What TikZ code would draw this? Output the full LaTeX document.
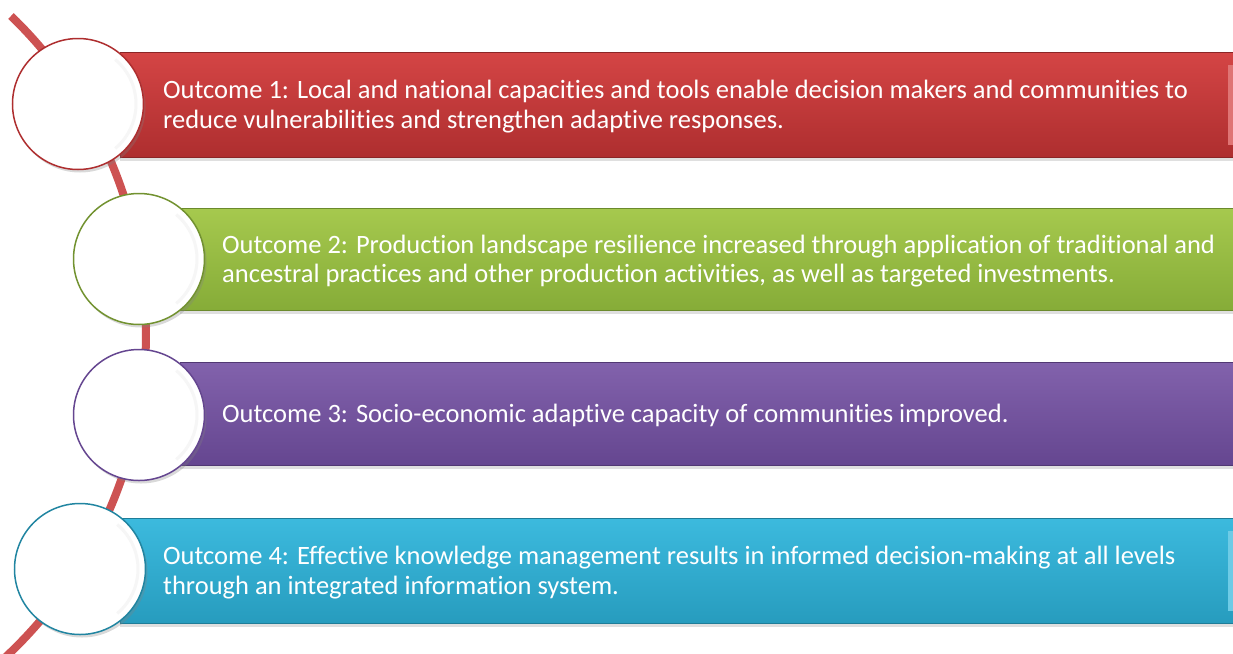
\documentclass[tikz,border=0pt]{standalone}
\usepackage{fontspec}
\setmainfont{Carlito}[Ligatures=NoCommon]
\usetikzlibrary{positioning,shadows}
\definecolor{redtop}{HTML}{D44545}
\definecolor{redbot}{HTML}{AE2E2F}
\definecolor{greentop}{HTML}{A6C94E}
\definecolor{greenbot}{HTML}{86AC38}
\definecolor{purpletop}{HTML}{8262AC}
\definecolor{purplebot}{HTML}{654690}
\definecolor{bluetop}{HTML}{3CBADE}
\definecolor{bluebot}{HTML}{279CBE}
\definecolor{spine}{HTML}{CD5252}

\begin{document}
\begin{tikzpicture}[x=1pt,y=-1pt]
            \useasboundingbox (0,0) rectangle (1233,653);
            \clip (0,0) rectangle (1233,653);
            \tikzset{bar/.style={rectangle,anchor=west,minimum width=1113pt,inner sep=0pt,
                        drop shadow={opacity=0.25,shadow xshift=0pt,shadow yshift=-4pt}},
                     disc/.style={circle,fill=white,line width=1.5pt,minimum size=131pt,inner sep=0pt,
                        drop shadow={opacity=0.3,shadow xshift=2pt,shadow yshift=-3pt}},
                     outcome/.style={anchor=west,align=left,inner sep=0pt,text=white,
                        font=\fontsize{26.5}{29.5}\selectfont}}
            \coordinate (top) at (11,16);
            \draw[spine, line width=8pt] (top) arc[start angle=-46, end angle=48, radius=442];
            \node[bar, minimum height=105pt, top color=redtop, bottom color=redbot, draw=redbot!80!black] (b1) at (120,104.5) {};
            \node[bar, minimum height=102pt, top color=greentop, bottom color=greenbot, draw=greenbot!80!black] (b2) at (180,259) {};
            \node[bar, minimum height=103pt, top color=purpletop, bottom color=purplebot, draw=purplebot!80!black] (b3) at (180,413.5) {};
            \node[bar, minimum height=105pt, top color=bluetop, bottom color=bluebot, draw=bluebot!80!black] (b4) at (120,570.5) {};
            \fill[redtop!75!white] ([xshift=-5pt,yshift=-13pt]b1.north east) rectangle ([yshift=12pt]b1.south east);
            \fill[greentop!75!white] ([xshift=-5pt,yshift=-13pt]b2.north east) rectangle ([yshift=12pt]b2.south east);
            \fill[purpletop!75!white] ([xshift=-5pt,yshift=-13pt]b3.north east) rectangle ([yshift=12pt]b3.south east);
            \fill[bluetop!75!white] ([xshift=-5pt,yshift=-13pt]b4.north east) rectangle ([yshift=12pt]b4.south east);
            \node[disc, draw=redbot] (c1) at (78,104) {};
            \node[disc, draw=greenbot!85!black] (c2) at (139,259) {};
            \node[disc, draw=purplebot] (c3) at (139,415) {};
            \node[disc, draw=bluebot!85!black] (c4) at (80,569) {};
            \draw[gray!7, line width=3pt] (c1.center) ++(-50:58) arc[start angle=-50, end angle=50, radius=58];
            \draw[gray!7, line width=3pt] (c2.center) ++(-50:58) arc[start angle=-50, end angle=50, radius=58];
            \draw[gray!7, line width=3pt] (c3.center) ++(-50:58) arc[start angle=-50, end angle=50, radius=58];
            \draw[gray!7, line width=3pt] (c4.center) ++(-50:58) arc[start angle=-50, end angle=50, radius=58];
            \node[outcome, right=43pt of b1.west, yshift=-2pt] (t1) {Outcome 1: Local and national capacities and tools enable decision makers and communities to\\reduce vulnerabilities and strengthen adaptive responses.};
            \node[outcome, right=42pt of b2.west, yshift=-2pt] (t2) {Outcome 2: Production landscape resilience increased through application of traditional and\\ancestral practices and other production activities, as well as targeted investments.};
            \node[outcome, right=42pt of b3.west, yshift=-2pt] (t3) {Outcome 3: Socio-economic adaptive capacity of communities improved.};
            \node[outcome, right=43pt of b4.west, yshift=-2pt] (t4) {Outcome 4: Effective knowledge management results in informed decision-making at all levels\\through an integrated information system.};
        \end{tikzpicture}
\end{document}
